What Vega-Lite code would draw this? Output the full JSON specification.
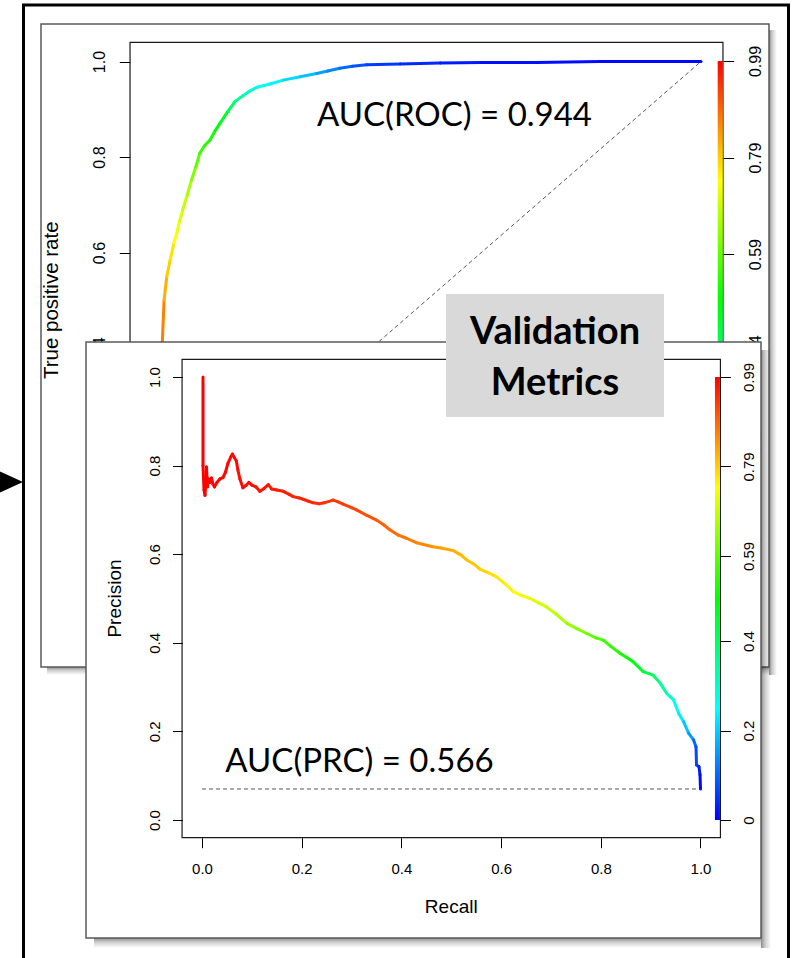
{
  "$schema": "https://vega.github.io/schema/vega-lite/v6.json",
  "width": 795,
  "height": 958,
  "autosize": {"type": "none"},
  "padding": 0,
  "background": "white",
  "config": {"view": {"stroke": null}, "axis": {"grid": false, "domain": false}},
  "resolve": {"scale": {"x": "independent", "y": "independent"}, "axis": {"x": "independent", "y": "independent"}},
  "layer": [
    {
      "data": {"values": [{}]},
      "mark": {"type": "rect", "fill": "transparent", "stroke": "black", "strokeWidth": 3},
      "encoding": {
        "x": {"datum": -0.23406, "type": "quantitative", "scale": {"domain": [-0.27687, 1.17122], "nice": false, "zero": false}, "axis": null},
        "x2": {"datum": 1.15938},
        "y": {"datum": 1.11812, "type": "quantitative", "scale": {"domain": [-0.87749, 1.1288], "nice": false, "zero": false}, "axis": null},
        "y2": {"datum": -0.91309}
      }
    },
    {
      "data": {"values": [{}]},
      "mark": {"type": "rect", "stroke": null, "fill": {"gradient": "linear", "x1": 0, "y1": 0, "x2": 1, "y2": 0, "stops": [{"offset": 0, "color": "rgba(0,0,0,0.45)"}, {"offset": 0.4, "color": "rgba(0,0,0,0.2)"}, {"offset": 1, "color": "rgba(0,0,0,0)"}]}},
      "encoding": {
        "x": {"datum": 1.12386, "type": "quantitative", "scale": {"domain": [-0.27687, 1.17122], "nice": false, "zero": false}, "axis": null},
        "x2": {"datum": 1.13843},
        "y": {"datum": 1.06597, "type": "quantitative", "scale": {"domain": [-0.87749, 1.1288], "nice": false, "zero": false}, "axis": null},
        "y2": {"datum": -0.28482}
      }
    },
    {
      "data": {"values": [{}]},
      "mark": {"type": "rect", "stroke": null, "fill": {"gradient": "linear", "x1": 0, "y1": 0, "x2": 0, "y2": 1, "stops": [{"offset": 0, "color": "rgba(0,0,0,0.45)"}, {"offset": 0.4, "color": "rgba(0,0,0,0.2)"}, {"offset": 1, "color": "rgba(0,0,0,0)"}]}},
      "encoding": {
        "x": {"datum": -0.19126, "type": "quantitative", "scale": {"domain": [-0.27687, 1.17122], "nice": false, "zero": false}, "axis": null},
        "x2": {"datum": 1.12386},
        "y": {"datum": -0.26806, "type": "quantitative", "scale": {"domain": [-0.87749, 1.1288], "nice": false, "zero": false}, "axis": null},
        "y2": {"datum": -0.28482}
      }
    },
    {
      "data": {"values": [{}]},
      "mark": {"type": "rect", "fill": "transparent", "stroke": "#5a5a5a", "strokeWidth": 1.5},
      "encoding": {
        "x": {"datum": -0.20219, "type": "quantitative", "scale": {"domain": [-0.27687, 1.17122], "nice": false, "zero": false}, "axis": null},
        "x2": {"datum": 1.12386},
        "y": {"datum": 1.07853, "type": "quantitative", "scale": {"domain": [-0.87749, 1.1288], "nice": false, "zero": false}, "axis": null},
        "y2": {"datum": -0.26806}
      }
    },
    {
      "data": {"values": [{}]},
      "mark": {"type": "rect", "fill": "transparent", "stroke": "#1a1a1a", "strokeWidth": 1.2},
      "encoding": {
        "x": {"datum": -0.04, "type": "quantitative", "scale": {"domain": [-0.27687, 1.17122], "nice": false, "zero": false}, "axis": null},
        "x2": {"datum": 1.04},
        "y": {"datum": -0.04, "type": "quantitative", "scale": {"domain": [-0.87749, 1.1288], "nice": false, "zero": false},
          "axis": {"orient": "left", "offset": -130, "values": [0, 0.2, 0.4, 0.6, 0.8, 1], "format": ".1f", "labelAngle": 270, "labelAlign": "center", "labelBaseline": "bottom", "labelPadding": 11.5, "tickSize": 10.7, "tickColor": "black", "tickWidth": 1, "labelColor": "black", "labelFont": "Liberation Sans", "labelFontSize": 16, "title": null, "zindex": 0, "labelFlush": false, "labelOverlap": false, "labelBound": false, "domain": false, "grid": false}},
        "y2": {"datum": 1.04}
      }
    },
    {
      "data": {"values": [{}]},
      "mark": {"type": "rule", "stroke": "#555555", "strokeWidth": 1, "strokeDash": [4, 3]},
      "encoding": {
        "x": {"datum": 0, "type": "quantitative", "scale": {"domain": [-0.27687, 1.17122], "nice": false, "zero": false}, "axis": null},
        "x2": {"datum": 1},
        "y": {"datum": 0, "type": "quantitative", "scale": {"domain": [-0.87749, 1.1288], "nice": false, "zero": false}, "axis": null},
        "y2": {"datum": 1}
      }
    },
    {
      "data": {"values": [
        {"fpr": 0, "tpr": 0, "cut": 0.99},
        {"fpr": 0.001, "tpr": 0.08, "cut": 0.978},
        {"fpr": 0.004, "tpr": 0.18, "cut": 0.959},
        {"fpr": 0.009, "tpr": 0.28, "cut": 0.931},
        {"fpr": 0.015, "tpr": 0.36, "cut": 0.895},
        {"fpr": 0.019, "tpr": 0.417, "cut": 0.866},
        {"fpr": 0.022, "tpr": 0.5, "cut": 0.82},
        {"fpr": 0.027, "tpr": 0.55, "cut": 0.79},
        {"fpr": 0.033, "tpr": 0.584, "cut": 0.77},
        {"fpr": 0.04, "tpr": 0.62, "cut": 0.744},
        {"fpr": 0.045, "tpr": 0.64, "cut": 0.728},
        {"fpr": 0.05, "tpr": 0.665, "cut": 0.708},
        {"fpr": 0.056, "tpr": 0.689, "cut": 0.689},
        {"fpr": 0.064, "tpr": 0.72, "cut": 0.656},
        {"fpr": 0.072, "tpr": 0.752, "cut": 0.618},
        {"fpr": 0.08, "tpr": 0.78, "cut": 0.584},
        {"fpr": 0.087, "tpr": 0.808, "cut": 0.55},
        {"fpr": 0.096, "tpr": 0.824, "cut": 0.531},
        {"fpr": 0.106, "tpr": 0.836, "cut": 0.517},
        {"fpr": 0.115, "tpr": 0.855, "cut": 0.49},
        {"fpr": 0.124, "tpr": 0.871, "cut": 0.458},
        {"fpr": 0.138, "tpr": 0.895, "cut": 0.41},
        {"fpr": 0.151, "tpr": 0.916, "cut": 0.352},
        {"fpr": 0.165, "tpr": 0.928, "cut": 0.316},
        {"fpr": 0.178, "tpr": 0.938, "cut": 0.286},
        {"fpr": 0.191, "tpr": 0.946, "cut": 0.262},
        {"fpr": 0.215, "tpr": 0.953, "cut": 0.24},
        {"fpr": 0.239, "tpr": 0.961, "cut": 0.212},
        {"fpr": 0.27, "tpr": 0.968, "cut": 0.187},
        {"fpr": 0.3, "tpr": 0.975, "cut": 0.155},
        {"fpr": 0.32, "tpr": 0.98, "cut": 0.13},
        {"fpr": 0.342, "tpr": 0.986, "cut": 0.1},
        {"fpr": 0.365, "tpr": 0.99, "cut": 0.08},
        {"fpr": 0.391, "tpr": 0.993, "cut": 0.056},
        {"fpr": 0.452, "tpr": 0.995, "cut": 0.04},
        {"fpr": 0.525, "tpr": 0.997, "cut": 0.024},
        {"fpr": 0.6, "tpr": 0.998, "cut": 0.016},
        {"fpr": 0.7, "tpr": 0.998, "cut": 0.012},
        {"fpr": 0.816, "tpr": 1.0, "cut": 0.005},
        {"fpr": 1.0, "tpr": 1.0, "cut": 0.0}
      ]},
      "transform": [
        {"window": [{"op": "lead", "field": "fpr", "as": "fpr2"}, {"op": "lead", "field": "tpr", "as": "tpr2"}]},
        {"filter": "isValid(datum.fpr2)"}
      ],
      "mark": {"type": "rule", "strokeWidth": 3, "strokeCap": "round"},
      "encoding": {
        "x": {"field": "fpr", "type": "quantitative", "scale": {"domain": [-0.27687, 1.17122], "nice": false, "zero": false}, "axis": null},
        "x2": {"field": "fpr2"},
        "y": {"field": "tpr", "type": "quantitative", "scale": {"domain": [-0.87749, 1.1288], "nice": false, "zero": false}, "axis": null},
        "y2": {"field": "tpr2"},
        "color": {"field": "cut", "type": "quantitative", "scale": {"type": "linear", "domain": [0, 0.2475, 0.495, 0.7425, 0.99], "range": ["#0000ff", "#00ffff", "#00ff00", "#ffff00", "#ff0000"], "interpolate": "rgb"}, "legend": null}
      }
    },
    {
      "data": {"values": [{"label": "AUC(ROC) = 0.944"}]},
      "mark": {"type": "text", "font": "Lato", "fontSize": 33, "color": "black", "align": "center", "baseline": "alphabetic"},
      "encoding": {
        "text": {"field": "label"},
        "x": {"datum": 0.551, "type": "quantitative", "scale": {"domain": [-0.27687, 1.17122], "nice": false, "zero": false}, "axis": null},
        "y": {"datum": 0.86492, "type": "quantitative", "scale": {"domain": [-0.87749, 1.1288], "nice": false, "zero": false}, "axis": null}
      }
    },
    {
      "data": {"values": [{"label": "True positive rate"}]},
      "mark": {"type": "text", "font": "Liberation Sans", "fontSize": 20.5, "color": "black", "align": "center", "baseline": "alphabetic", "angle": 270},
      "encoding": {
        "text": {"field": "label"},
        "x": {"datum": -0.1712, "type": "quantitative", "scale": {"domain": [-0.27687, 1.17122], "nice": false, "zero": false}, "axis": null},
        "y": {"datum": 0.5, "type": "quantitative", "scale": {"domain": [-0.87749, 1.1288], "nice": false, "zero": false}, "axis": null}
      }
    },
    {
      "data": {"values": [{}]},
      "mark": {"type": "rect", "stroke": null, "fill": {"gradient": "linear", "x1": 0, "y1": 1, "x2": 0, "y2": 0, "stops": [{"offset": 0, "color": "#0000ff"}, {"offset": 0.25, "color": "#00ffff"}, {"offset": 0.5, "color": "#00ff00"}, {"offset": 0.75, "color": "#ffff00"}, {"offset": 1, "color": "#ff0000"}]}},
      "encoding": {
        "x": {"datum": 1.0304, "type": "quantitative", "scale": {"domain": [-0.27687, 1.17122], "nice": false, "zero": false}, "axis": null},
        "x2": {"datum": 1.0395},
        "y": {"datum": 0, "type": "quantitative", "scale": {"domain": [-0.8678, 1.11633], "nice": false, "zero": false},
          "axis": {"orient": "right", "offset": -72, "values": [0, 0.2, 0.4, 0.59, 0.79, 0.99], "labelExpr": "format(datum.value, '.2~f')", "labelAngle": 270, "labelAlign": "center", "labelBaseline": "top", "labelPadding": 13.5, "tickSize": 10.7, "tickColor": "black", "tickWidth": 1, "labelColor": "black", "labelFont": "Liberation Sans", "labelFontSize": 16, "title": null, "zindex": 0, "labelFlush": false, "labelOverlap": false, "labelBound": false, "domain": false, "grid": false}},
        "y2": {"datum": 0.99}
      }
    },
    {
      "data": {"values": [{}]},
      "mark": {"type": "rect", "stroke": null, "fill": {"gradient": "linear", "x1": 0, "y1": 0, "x2": 1, "y2": 0, "stops": [{"offset": 0, "color": "rgba(0,0,0,0.45)"}, {"offset": 0.4, "color": "rgba(0,0,0,0.2)"}, {"offset": 1, "color": "rgba(0,0,0,0)"}]}},
      "encoding": {
        "x": {"datum": 1.12136, "type": "quantitative", "scale": {"domain": [-0.40522, 1.18957], "nice": false, "zero": false}, "axis": null},
        "x2": {"datum": 1.14142},
        "y": {"datum": 1.06095, "type": "quantitative", "scale": {"domain": [-0.31151, 1.85102], "nice": false, "zero": false}, "axis": null},
        "y2": {"datum": -0.28894}
      }
    },
    {
      "data": {"values": [{}]},
      "mark": {"type": "rect", "stroke": null, "fill": {"gradient": "linear", "x1": 0, "y1": 0, "x2": 0, "y2": 1, "stops": [{"offset": 0, "color": "rgba(0,0,0,0.45)"}, {"offset": 0.4, "color": "rgba(0,0,0,0.2)"}, {"offset": 1, "color": "rgba(0,0,0,0)"}]}},
      "encoding": {
        "x": {"datum": -0.21665, "type": "quantitative", "scale": {"domain": [-0.40522, 1.18957], "nice": false, "zero": false}, "axis": null},
        "x2": {"datum": 1.12136},
        "y": {"datum": -0.26637, "type": "quantitative", "scale": {"domain": [-0.31151, 1.85102], "nice": false, "zero": false}, "axis": null},
        "y2": {"datum": -0.28894}
      }
    },
    {
      "data": {"values": [{}]},
      "mark": {"type": "rect", "fill": "white", "stroke": "#5a5a5a", "strokeWidth": 1.5},
      "encoding": {
        "x": {"datum": -0.2327, "type": "quantitative", "scale": {"domain": [-0.40522, 1.18957], "nice": false, "zero": false}, "axis": null},
        "x2": {"datum": 1.12136},
        "y": {"datum": 1.07901, "type": "quantitative", "scale": {"domain": [-0.31151, 1.85102], "nice": false, "zero": false}, "axis": null},
        "y2": {"datum": -0.26637}
      }
    },
    {
      "data": {"values": [{}]},
      "mark": {"type": "rect", "fill": "transparent", "stroke": "#1a1a1a", "strokeWidth": 1.2},
      "encoding": {
        "x": {"datum": -0.04, "type": "quantitative", "scale": {"domain": [-0.40522, 1.18957], "nice": false, "zero": false},
          "axis": {"orient": "bottom", "offset": -120.3, "values": [0, 0.2, 0.4, 0.6, 0.8, 1], "format": ".1f", "labelAngle": 0, "labelAlign": "center", "labelBaseline": "top", "labelPadding": 13.5, "tickSize": 10, "tickColor": "black", "tickWidth": 1, "labelColor": "black", "labelFont": "Liberation Sans", "labelFontSize": 15, "title": null, "zindex": 1, "labelFlush": false, "labelOverlap": false, "labelBound": false, "domain": false, "grid": false}},
        "x2": {"datum": 1.04},
        "y": {"datum": -0.04, "type": "quantitative", "scale": {"domain": [-0.31151, 1.85102], "nice": false, "zero": false},
          "axis": {"orient": "left", "offset": -182.5, "values": [0, 0.2, 0.4, 0.6, 0.8, 1], "format": ".1f", "labelAngle": 270, "labelAlign": "center", "labelBaseline": "bottom", "labelPadding": 10.5, "tickSize": 10, "tickColor": "black", "tickWidth": 1, "labelColor": "black", "labelFont": "Liberation Sans", "labelFontSize": 15, "title": null, "zindex": 1, "labelFlush": false, "labelOverlap": false, "labelBound": false, "domain": false, "grid": false}},
        "y2": {"datum": 1.04}
      }
    },
    {
      "data": {"values": [{}]},
      "mark": {"type": "rule", "stroke": "#555555", "strokeWidth": 1, "strokeDash": [4, 3]},
      "encoding": {
        "x": {"datum": 0, "type": "quantitative", "scale": {"domain": [-0.40522, 1.18957], "nice": false, "zero": false}, "axis": null},
        "x2": {"datum": 1},
        "y": {"datum": 0.07, "type": "quantitative", "scale": {"domain": [-0.31151, 1.85102], "nice": false, "zero": false}, "axis": null}
      }
    },
    {
      "data": {"values": [
        {"rec": 0.002, "prec": 1.0, "cut": 0.99},
        {"rec": 0.002, "prec": 0.8, "cut": 0.99},
        {"rec": 0.004, "prec": 0.745, "cut": 0.989},
        {"rec": 0.006, "prec": 0.733, "cut": 0.989},
        {"rec": 0.008, "prec": 0.765, "cut": 0.989},
        {"rec": 0.009, "prec": 0.797, "cut": 0.989},
        {"rec": 0.011, "prec": 0.752, "cut": 0.988},
        {"rec": 0.013, "prec": 0.77, "cut": 0.988},
        {"rec": 0.016, "prec": 0.762, "cut": 0.988},
        {"rec": 0.019, "prec": 0.772, "cut": 0.987},
        {"rec": 0.022, "prec": 0.758, "cut": 0.987},
        {"rec": 0.025, "prec": 0.752, "cut": 0.986},
        {"rec": 0.03, "prec": 0.762, "cut": 0.986},
        {"rec": 0.036, "prec": 0.77, "cut": 0.985},
        {"rec": 0.042, "prec": 0.773, "cut": 0.984},
        {"rec": 0.047, "prec": 0.785, "cut": 0.983},
        {"rec": 0.052, "prec": 0.805, "cut": 0.982},
        {"rec": 0.058, "prec": 0.82, "cut": 0.981},
        {"rec": 0.061, "prec": 0.826, "cut": 0.981},
        {"rec": 0.065, "prec": 0.818, "cut": 0.98},
        {"rec": 0.069, "prec": 0.81, "cut": 0.98},
        {"rec": 0.072, "prec": 0.79, "cut": 0.979},
        {"rec": 0.076, "prec": 0.77, "cut": 0.979},
        {"rec": 0.082, "prec": 0.75, "cut": 0.978},
        {"rec": 0.088, "prec": 0.755, "cut": 0.977},
        {"rec": 0.094, "prec": 0.762, "cut": 0.976},
        {"rec": 0.1, "prec": 0.756, "cut": 0.975},
        {"rec": 0.108, "prec": 0.752, "cut": 0.973},
        {"rec": 0.116, "prec": 0.742, "cut": 0.972},
        {"rec": 0.124, "prec": 0.748, "cut": 0.97},
        {"rec": 0.133, "prec": 0.757, "cut": 0.968},
        {"rec": 0.14, "prec": 0.747, "cut": 0.967},
        {"rec": 0.15, "prec": 0.745, "cut": 0.965},
        {"rec": 0.163, "prec": 0.742, "cut": 0.962},
        {"rec": 0.175, "prec": 0.735, "cut": 0.96},
        {"rec": 0.183, "prec": 0.73, "cut": 0.958},
        {"rec": 0.195, "prec": 0.727, "cut": 0.956},
        {"rec": 0.203, "prec": 0.724, "cut": 0.954},
        {"rec": 0.215, "prec": 0.719, "cut": 0.951},
        {"rec": 0.223, "prec": 0.716, "cut": 0.948},
        {"rec": 0.235, "prec": 0.714, "cut": 0.945},
        {"rec": 0.245, "prec": 0.716, "cut": 0.942},
        {"rec": 0.263, "prec": 0.722, "cut": 0.936},
        {"rec": 0.273, "prec": 0.718, "cut": 0.933},
        {"rec": 0.283, "prec": 0.713, "cut": 0.93},
        {"rec": 0.3, "prec": 0.705, "cut": 0.925},
        {"rec": 0.31, "prec": 0.7, "cut": 0.92},
        {"rec": 0.33, "prec": 0.688, "cut": 0.91},
        {"rec": 0.35, "prec": 0.677, "cut": 0.9},
        {"rec": 0.365, "prec": 0.666, "cut": 0.893},
        {"rec": 0.377, "prec": 0.655, "cut": 0.887},
        {"rec": 0.394, "prec": 0.643, "cut": 0.878},
        {"rec": 0.41, "prec": 0.636, "cut": 0.87},
        {"rec": 0.43, "prec": 0.626, "cut": 0.859},
        {"rec": 0.463, "prec": 0.617, "cut": 0.84},
        {"rec": 0.48, "prec": 0.614, "cut": 0.831},
        {"rec": 0.504, "prec": 0.608, "cut": 0.818},
        {"rec": 0.52, "prec": 0.598, "cut": 0.808},
        {"rec": 0.531, "prec": 0.587, "cut": 0.801},
        {"rec": 0.545, "prec": 0.578, "cut": 0.793},
        {"rec": 0.558, "prec": 0.566, "cut": 0.785},
        {"rec": 0.575, "prec": 0.558, "cut": 0.775},
        {"rec": 0.591, "prec": 0.549, "cut": 0.765},
        {"rec": 0.608, "prec": 0.533, "cut": 0.754},
        {"rec": 0.625, "prec": 0.515, "cut": 0.74},
        {"rec": 0.64, "prec": 0.507, "cut": 0.728},
        {"rec": 0.658, "prec": 0.5, "cut": 0.714},
        {"rec": 0.675, "prec": 0.49, "cut": 0.7},
        {"rec": 0.691, "prec": 0.481, "cut": 0.687},
        {"rec": 0.71, "prec": 0.465, "cut": 0.668},
        {"rec": 0.732, "prec": 0.444, "cut": 0.642},
        {"rec": 0.752, "prec": 0.432, "cut": 0.618},
        {"rec": 0.772, "prec": 0.421, "cut": 0.594},
        {"rec": 0.79, "prec": 0.411, "cut": 0.572},
        {"rec": 0.805, "prec": 0.406, "cut": 0.554},
        {"rec": 0.82, "prec": 0.392, "cut": 0.536},
        {"rec": 0.839, "prec": 0.376, "cut": 0.513},
        {"rec": 0.852, "prec": 0.367, "cut": 0.496},
        {"rec": 0.865, "prec": 0.357, "cut": 0.47},
        {"rec": 0.885, "prec": 0.335, "cut": 0.43},
        {"rec": 0.905, "prec": 0.327, "cut": 0.385},
        {"rec": 0.919, "prec": 0.309, "cut": 0.343},
        {"rec": 0.932, "prec": 0.286, "cut": 0.304},
        {"rec": 0.946, "prec": 0.271, "cut": 0.262},
        {"rec": 0.956, "prec": 0.241, "cut": 0.229},
        {"rec": 0.966, "prec": 0.222, "cut": 0.194},
        {"rec": 0.976, "prec": 0.196, "cut": 0.15},
        {"rec": 0.986, "prec": 0.181, "cut": 0.1},
        {"rec": 0.991, "prec": 0.165, "cut": 0.072},
        {"rec": 0.992, "prec": 0.124, "cut": 0.064},
        {"rec": 0.997, "prec": 0.12, "cut": 0.024},
        {"rec": 0.999, "prec": 0.102, "cut": 0.008},
        {"rec": 1.0, "prec": 0.07, "cut": 0.0}
      ]},
      "transform": [
        {"window": [{"op": "lead", "field": "rec", "as": "rec2"}, {"op": "lead", "field": "prec", "as": "prec2"}]},
        {"filter": "isValid(datum.rec2)"}
      ],
      "mark": {"type": "rule", "strokeWidth": 3, "strokeCap": "round"},
      "encoding": {
        "x": {"field": "rec", "type": "quantitative", "scale": {"domain": [-0.40522, 1.18957], "nice": false, "zero": false}, "axis": null},
        "x2": {"field": "rec2"},
        "y": {"field": "prec", "type": "quantitative", "scale": {"domain": [-0.31151, 1.85102], "nice": false, "zero": false}, "axis": null},
        "y2": {"field": "prec2"},
        "color": {"field": "cut", "type": "quantitative", "scale": {"type": "linear", "domain": [0, 0.2475, 0.495, 0.7425, 0.99], "range": ["#0000ff", "#00ffff", "#00ff00", "#ffff00", "#ff0000"], "interpolate": "rgb"}, "legend": null}
      }
    },
    {
      "data": {"values": [{"label": "AUC(PRC) = 0.566"}]},
      "mark": {"type": "text", "font": "Lato", "fontSize": 33, "color": "black", "align": "center", "baseline": "alphabetic"},
      "encoding": {
        "text": {"field": "label"},
        "x": {"datum": 0.31595, "type": "quantitative", "scale": {"domain": [-0.40522, 1.18957], "nice": false, "zero": false}, "axis": null},
        "y": {"datum": 0.10835, "type": "quantitative", "scale": {"domain": [-0.31151, 1.85102], "nice": false, "zero": false}, "axis": null}
      }
    },
    {
      "data": {"values": [{"label": "Precision"}]},
      "mark": {"type": "text", "font": "Liberation Sans", "fontSize": 19, "color": "black", "align": "center", "baseline": "alphabetic", "angle": 270},
      "encoding": {
        "text": {"field": "label"},
        "x": {"datum": -0.1625, "type": "quantitative", "scale": {"domain": [-0.40522, 1.18957], "nice": false, "zero": false}, "axis": null},
        "y": {"datum": 0.5, "type": "quantitative", "scale": {"domain": [-0.31151, 1.85102], "nice": false, "zero": false}, "axis": null}
      }
    },
    {
      "data": {"values": [{"label": "Recall"}]},
      "mark": {"type": "text", "font": "Liberation Sans", "fontSize": 19, "color": "black", "align": "center", "baseline": "alphabetic"},
      "encoding": {
        "text": {"field": "label"},
        "x": {"datum": 0.5, "type": "quantitative", "scale": {"domain": [-0.40522, 1.18957], "nice": false, "zero": false}, "axis": null},
        "y": {"datum": -0.20993, "type": "quantitative", "scale": {"domain": [-0.31151, 1.85102], "nice": false, "zero": false}, "axis": null}
      }
    },
    {
      "data": {"values": [{}]},
      "mark": {"type": "rect", "fill": "#d9d9d9", "stroke": null},
      "encoding": {
        "x": {"datum": 0.48947, "type": "quantitative", "scale": {"domain": [-0.40522, 1.18957], "nice": false, "zero": false}, "axis": null},
        "x2": {"datum": 0.92678},
        "y": {"datum": 1.18736, "type": "quantitative", "scale": {"domain": [-0.31151, 1.85102], "nice": false, "zero": false}, "axis": null},
        "y2": {"datum": 0.90971}
      }
    },
    {
      "data": {"values": [{"label": "Validation"}]},
      "mark": {"type": "text", "font": "Lato", "fontSize": 38, "fontWeight": "bold", "color": "black", "align": "center", "baseline": "alphabetic"},
      "encoding": {
        "text": {"field": "label"},
        "x": {"datum": 0.70812, "type": "quantitative", "scale": {"domain": [-0.40522, 1.18957], "nice": false, "zero": false}, "axis": null},
        "y": {"datum": 1.07449, "type": "quantitative", "scale": {"domain": [-0.31151, 1.85102], "nice": false, "zero": false}, "axis": null}
      }
    },
    {
      "data": {"values": [{"label": "Metrics"}]},
      "mark": {"type": "text", "font": "Lato", "fontSize": 38, "fontWeight": "bold", "color": "black", "align": "center", "baseline": "alphabetic"},
      "encoding": {
        "text": {"field": "label"},
        "x": {"datum": 0.70812, "type": "quantitative", "scale": {"domain": [-0.40522, 1.18957], "nice": false, "zero": false}, "axis": null},
        "y": {"datum": 0.95937, "type": "quantitative", "scale": {"domain": [-0.31151, 1.85102], "nice": false, "zero": false}, "axis": null}
      }
    },
    {
      "data": {"values": [{}]},
      "mark": {"type": "point", "shape": "M-1,-0.92L1,0L-1,0.92Z", "filled": true, "color": "black", "opacity": 1, "size": 625, "strokeWidth": 0},
      "encoding": {
        "x": {"datum": -0.38415, "type": "quantitative", "scale": {"domain": [-0.40522, 1.18957], "nice": false, "zero": false}, "axis": null},
        "y": {"datum": 0.76298, "type": "quantitative", "scale": {"domain": [-0.31151, 1.85102], "nice": false, "zero": false}, "axis": null}
      }
    },
    {
      "data": {"values": [{}]},
      "mark": {"type": "rect", "stroke": null, "fill": {"gradient": "linear", "x1": 0, "y1": 1, "x2": 0, "y2": 0, "stops": [{"offset": 0, "color": "#0000ff"}, {"offset": 0.25, "color": "#00ffff"}, {"offset": 0.5, "color": "#00ff00"}, {"offset": 0.75, "color": "#ffff00"}, {"offset": 1, "color": "#ff0000"}]}},
      "encoding": {
        "x": {"datum": 1.029, "type": "quantitative", "scale": {"domain": [-0.40522, 1.18957], "nice": false, "zero": false}, "axis": null},
        "x2": {"datum": 1.039},
        "y": {"datum": 0, "type": "quantitative", "scale": {"domain": [-0.3084, 1.83253], "nice": false, "zero": false},
          "axis": {"orient": "right", "offset": -74.6, "values": [0, 0.2, 0.4, 0.59, 0.79, 0.99], "labelExpr": "format(datum.value, '.2~f')", "labelAngle": 270, "labelAlign": "center", "labelBaseline": "top", "labelPadding": 11.5, "tickSize": 10, "tickColor": "black", "tickWidth": 1, "labelColor": "black", "labelFont": "Liberation Sans", "labelFontSize": 15, "title": null, "zindex": 1, "labelFlush": false, "labelOverlap": false, "labelBound": false, "domain": false, "grid": false}},
        "y2": {"datum": 0.99}
      }
    }
  ]
}
